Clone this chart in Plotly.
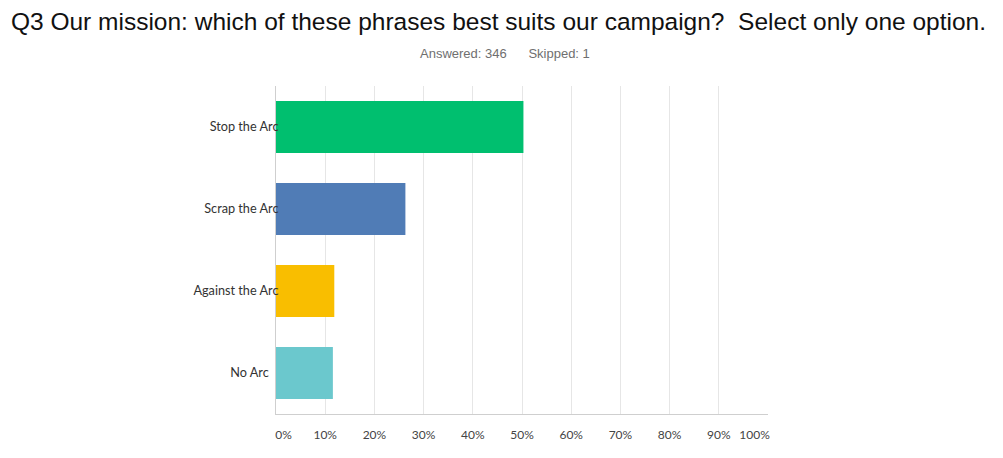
import plotly.graph_objects as go

categories = ["Stop the Arc", "Scrap the Arc", "Against the Arc", "No Arc"]
category_labels = ["Stop the Arc", "Scrap the Arc", "Against the Arc", "No Arc\u00a0\u00a0\u00a0"]
values = [50.29, 26.30, 11.85, 11.56]
colors = ["#00BF6F", "#507CB6", "#F9BE00", "#6BC8CD"]
tick_vals = [0, 10, 20, 30, 40, 50, 60, 70, 80, 90, 100]
tick_text = ["\u2003\u20020%", "10%", "20%", "30%", "40%", "50%", "60%", "70%", "80%", "90%", "100%\u2003\u2003\u2003"]
title_text = "Q3 Our mission: which of these phrases best suits our campaign?  Select only one option."
subtitle_text = "Answered: 346\u00a0\u00a0\u00a0\u00a0\u00a0\u00a0Skipped: 1"

fig = go.Figure(go.Bar(
    x=values, y=categories, orientation="h",
    marker=dict(color=colors, line=dict(width=0)),
    width=0.634,
    hoverinfo="skip",
))

fig.update_layout(
    width=1003, height=458,
    margin=dict(l=276, r=235, t=86, b=44),
    paper_bgcolor="white", plot_bgcolor="white",
    showlegend=False,
    title=dict(text=title_text, x=0.497, xref="container", xanchor="center",
               y=1 - 21 / 458, yref="container", yanchor="middle",
               font=dict(family="Liberation Sans", size=24.5, color="#111111")),
    annotations=[dict(text=subtitle_text,
                      x=(505 - 276) / (1003 - 276 - 235), xref="paper", xanchor="center",
                      y=1 + (86 - 54) / (458 - 86 - 44), yref="paper", yanchor="middle",
                      showarrow=False,
                      font=dict(family="Liberation Sans", size=13, color="#6f6f6f"))],
)

fig.update_xaxes(
    range=[0, 100], tickvals=tick_vals, ticktext=tick_text,
    showgrid=True, gridcolor="#e6e6e6", gridwidth=1,
    showline=True, linecolor="#cfcfcf", linewidth=1,
    zeroline=False, ticks="outside", ticklen=10, tickcolor="rgba(0,0,0,0)",
    tickfont=dict(family="Lato", size=12, color="#444444"),
    fixedrange=True,
)
fig.update_yaxes(
    autorange="reversed", showgrid=False,
    tickvals=categories, ticktext=category_labels,
    showline=True, linecolor="#cfcfcf", linewidth=1,
    ticks="", ticklabelstandoff=-6,
    tickfont=dict(family="Lato", size=12.7, color="#333333"),
    fixedrange=True,
)

fig.write_html("out.html")
